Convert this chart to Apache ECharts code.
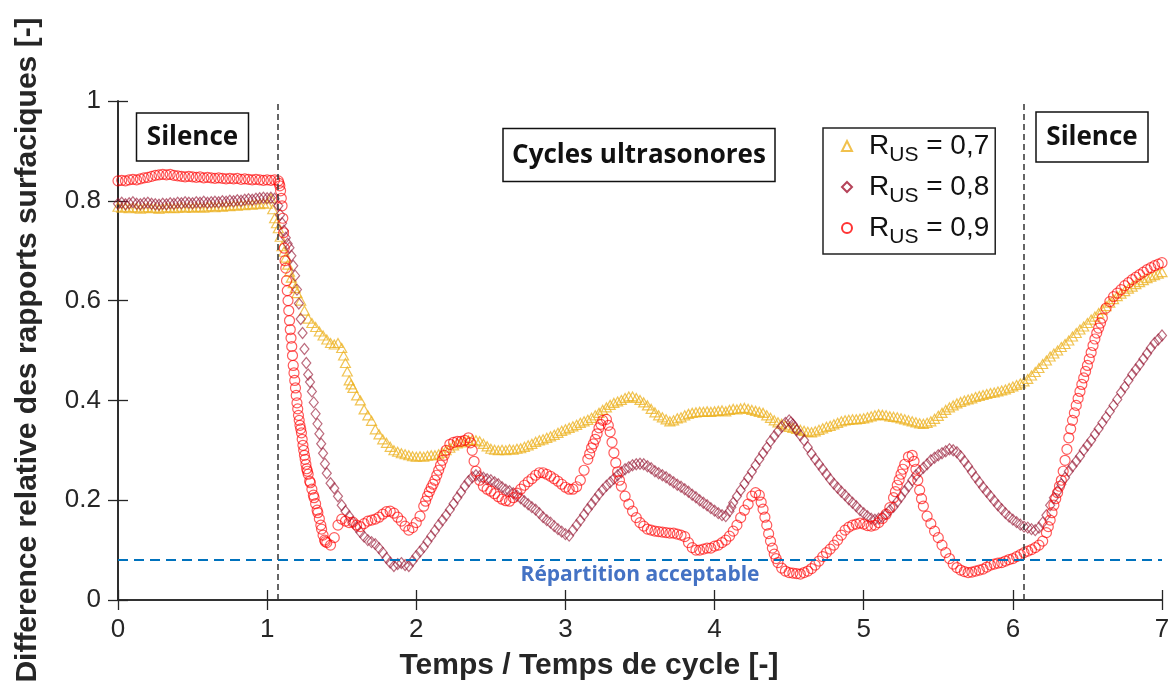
<!DOCTYPE html>
<html><head><meta charset="utf-8">
<script src="https://cdn.jsdelivr.net/npm/echarts@6/dist/echarts.min.js"></script>
<style>html,body{margin:0;padding:0;background:#fff}#c{width:1173px;height:695px}</style>
</head><body><div id="c"></div>
<script>
// ---------------- DATA ----------------
const X_STEP = 0.025;            // sampling step of the time grid (0 .. 7)
const xTicks = [0, 1, 2, 3, 4, 5, 6, 7];
const yTicks = [0, 0.2, 0.4, 0.6, 0.8, 1];
const legendValues = ['0,7', '0,8', '0,9'];

// R_US = 0,7 (triangles)
const y07 = [
0.788,0.786,0.787,0.785,0.787,0.786,0.784,0.786,0.787,0.785,
0.786,0.784,0.785,0.787,0.786,0.785,0.786,0.788,0.786,0.787,
0.786,0.788,0.787,0.786,0.788,0.789,0.787,0.789,0.788,0.790,
0.789,0.791,0.790,0.792,0.791,0.793,0.792,0.794,0.793,0.795,
0.794,0.805,0.765,0.745,0.709,0.686,0.658,0.635,0.615,0.600,
0.580,0.564,0.555,0.547,0.538,0.530,0.522,0.515,0.512,0.515,
0.505,0.475,0.440,0.425,0.410,0.400,0.382,0.370,0.359,0.342,
0.332,0.322,0.315,0.307,0.300,0.297,0.294,0.292,0.290,0.288,
0.287,0.288,0.287,0.289,0.290,0.290,0.292,0.295,0.300,0.305,
0.310,0.314,0.316,0.318,0.320,0.321,0.320,0.318,0.313,0.308,
0.303,0.301,0.300,0.301,0.300,0.302,0.301,0.303,0.304,0.307,
0.310,0.313,0.317,0.320,0.322,0.325,0.328,0.331,0.335,0.339,
0.342,0.345,0.348,0.351,0.355,0.358,0.361,0.365,0.370,0.375,
0.381,0.386,0.391,0.395,0.398,0.401,0.405,0.408,0.408,0.405,
0.401,0.396,0.390,0.383,0.376,0.370,0.366,0.362,0.358,0.360,
0.364,0.366,0.370,0.373,0.375,0.376,0.377,0.377,0.378,0.377,
0.378,0.379,0.380,0.378,0.381,0.383,0.382,0.384,0.385,0.383,
0.381,0.379,0.377,0.375,0.370,0.365,0.360,0.356,0.353,0.350,
0.347,0.345,0.343,0.341,0.339,0.337,0.336,0.338,0.341,0.344,
0.347,0.349,0.352,0.355,0.358,0.360,0.361,0.362,0.362,0.363,
0.364,0.366,0.368,0.370,0.372,0.371,0.370,0.368,0.367,0.366,
0.364,0.362,0.360,0.358,0.356,0.354,0.353,0.355,0.358,0.363,
0.369,0.375,0.381,0.386,0.390,0.394,0.397,0.400,0.402,0.404,
0.407,0.409,0.411,0.413,0.415,0.416,0.418,0.420,0.422,0.425,
0.428,0.431,0.434,0.438,0.443,0.450,0.457,0.465,0.473,0.480,
0.488,0.494,0.500,0.507,0.513,0.520,0.528,0.535,0.542,0.548,
0.555,0.562,0.568,0.575,0.582,0.589,0.596,0.603,0.609,0.614,
0.619,0.624,0.628,0.633,0.637,0.641,0.645,0.648,0.651,0.654,
0.657];
const x07extra = [1.0375,1.0625,1.0875,1.1125,1.1375,1.1625,1.1875,1.5125,1.5375,1.5625];
const y07extra = [0.783,0.755,0.728,0.698,0.672,0.646,0.625,0.490,0.458,0.432];

// R_US = 0,8 (diamonds)
const y08 = [
0.794,0.796,0.793,0.795,0.797,0.794,0.793,0.795,0.796,0.794,
0.793,0.792,0.794,0.793,0.795,0.794,0.796,0.795,0.797,0.796,
0.795,0.797,0.796,0.798,0.796,0.797,0.798,0.797,0.799,0.798,
0.800,0.799,0.801,0.800,0.802,0.803,0.802,0.804,0.805,0.806,
0.805,0.806,0.804,0.790,0.755,0.726,0.706,0.670,0.622,0.563,
0.503,0.452,0.418,0.373,0.333,0.294,0.254,0.234,0.224,0.208,
0.190,0.178,0.168,0.156,0.146,0.136,0.127,0.120,0.116,0.112,
0.104,0.095,0.084,0.075,0.068,0.072,0.074,0.070,0.068,0.078,
0.088,0.097,0.106,0.117,0.128,0.139,0.150,0.160,0.170,0.181,
0.193,0.205,0.216,0.228,0.238,0.246,0.250,0.248,0.245,0.242,
0.240,0.236,0.232,0.226,0.221,0.218,0.214,0.209,0.204,0.198,
0.192,0.186,0.181,0.174,0.166,0.160,0.155,0.148,0.142,0.137,
0.132,0.129,0.140,0.150,0.160,0.171,0.182,0.192,0.202,0.212,
0.221,0.229,0.236,0.243,0.250,0.256,0.262,0.266,0.270,0.272,
0.273,0.272,0.268,0.264,0.258,0.254,0.250,0.246,0.241,0.236,
0.231,0.227,0.222,0.217,0.211,0.206,0.200,0.195,0.190,0.184,
0.179,0.174,0.170,0.168,0.178,0.195,0.208,0.220,0.233,0.245,
0.257,0.270,0.282,0.294,0.305,0.318,0.328,0.338,0.347,0.355,
0.360,0.352,0.340,0.330,0.320,0.306,0.293,0.282,0.272,0.262,
0.252,0.242,0.233,0.225,0.217,0.210,0.202,0.195,0.188,0.180,
0.174,0.168,0.163,0.161,0.163,0.166,0.172,0.180,0.187,0.197,
0.207,0.218,0.228,0.240,0.250,0.258,0.265,0.272,0.280,0.285,
0.290,0.294,0.298,0.302,0.300,0.296,0.288,0.278,0.268,0.257,
0.246,0.236,0.226,0.217,0.208,0.199,0.190,0.182,0.174,0.167,
0.161,0.156,0.151,0.147,0.145,0.142,0.140,0.145,0.155,0.170,
0.190,0.205,0.218,0.232,0.245,0.258,0.268,0.278,0.288,0.300,
0.310,0.320,0.332,0.343,0.355,0.366,0.378,0.390,0.402,0.416,
0.427,0.440,0.452,0.462,0.472,0.483,0.494,0.505,0.515,0.522,
0.530];
const x08extra = [1.0875,1.1125,1.1375,1.1625,1.1875,1.2125,1.2375,1.2625,1.2875,1.3125,1.3375,1.3625,1.3875,4.1125,4.5125,4.5375];
const y08extra = [0.772,0.740,0.714,0.690,0.650,0.594,0.535,0.475,0.437,0.396,0.353,0.313,0.273,0.186,0.356,0.346];

// R_US = 0,9 (circles)
const y09 = [
0.840,0.841,0.840,0.842,0.843,0.842,0.844,0.846,0.847,0.849,
0.851,0.852,0.853,0.852,0.853,0.851,0.850,0.849,0.848,0.849,
0.848,0.847,0.848,0.846,0.847,0.846,0.845,0.846,0.845,0.844,
0.845,0.844,0.845,0.843,0.844,0.843,0.842,0.843,0.842,0.841,
0.842,0.841,0.842,0.840,0.790,0.665,0.560,0.470,0.395,0.343,
0.290,0.252,0.222,0.193,0.163,0.130,0.115,0.110,0.125,0.150,
0.162,0.158,0.155,0.156,0.150,0.147,0.153,0.158,0.160,0.162,
0.166,0.172,0.177,0.178,0.174,0.166,0.158,0.148,0.140,0.145,
0.155,0.168,0.188,0.208,0.225,0.240,0.260,0.280,0.300,0.312,
0.316,0.318,0.318,0.320,0.325,0.300,0.258,0.240,0.228,0.222,
0.218,0.213,0.207,0.202,0.199,0.198,0.205,0.214,0.222,0.230,
0.237,0.243,0.250,0.255,0.255,0.252,0.248,0.243,0.238,0.232,
0.226,0.222,0.222,0.227,0.240,0.260,0.282,0.305,0.322,0.345,
0.360,0.362,0.337,0.295,0.257,0.228,0.208,0.192,0.178,0.165,
0.155,0.148,0.142,0.140,0.138,0.137,0.136,0.135,0.134,0.134,
0.132,0.130,0.127,0.115,0.105,0.100,0.100,0.102,0.104,0.104,
0.108,0.110,0.115,0.120,0.128,0.138,0.150,0.165,0.180,0.192,
0.208,0.215,0.210,0.182,0.150,0.118,0.092,0.075,0.064,0.058,
0.055,0.054,0.053,0.052,0.055,0.058,0.063,0.070,0.078,0.087,
0.095,0.102,0.110,0.120,0.130,0.140,0.146,0.150,0.152,0.154,
0.152,0.149,0.148,0.150,0.155,0.163,0.172,0.185,0.205,0.230,
0.252,0.272,0.287,0.290,0.262,0.220,0.188,0.168,0.153,0.138,
0.125,0.110,0.095,0.083,0.072,0.065,0.060,0.057,0.055,0.056,
0.058,0.060,0.062,0.066,0.070,0.072,0.074,0.075,0.078,0.081,
0.083,0.087,0.091,0.095,0.098,0.101,0.105,0.110,0.118,0.135,
0.160,0.190,0.215,0.240,0.280,0.325,0.360,0.390,0.418,0.445,
0.470,0.496,0.523,0.545,0.565,0.585,0.598,0.608,0.615,0.622,
0.630,0.636,0.642,0.647,0.652,0.657,0.662,0.666,0.670,0.673,
0.676];
const x09extra = [1.080,1.085,1.090,1.095,1.105,1.110,1.115,1.120,1.130,1.135,1.140,1.145,1.155,1.160,1.165,1.170,1.180,1.185,1.190,1.195,1.205,1.210,1.215,1.220,1.230,1.235,1.240,1.245,1.255,1.260,1.265,1.270,1.285,1.290,1.310,1.315,1.335,1.340,1.360,1.365,1.385,1.390,
2.0625,2.0875,2.1125,2.1375,2.1625,2.1875,2.3625,2.3875,3.1625,3.1875,3.2125,3.2375,3.2875,3.3125,3.3375,3.3625,4.3125,4.3375,4.3625,4.3875,4.4125,5.2125,5.2375,5.2625,5.3375,5.3625,5.3875,
6.2375,6.2625,6.2875,6.3125,6.3375,6.3625,6.3875,6.4125,6.4375,6.4625,6.4875,6.5125,6.5375,6.5625,6.5875];
const y09extra = [0.835,0.830,0.820,0.805,0.765,0.736,0.705,0.680,0.640,0.620,0.600,0.580,0.542,0.525,0.508,0.490,0.455,0.440,0.425,0.410,0.383,0.370,0.360,0.350,0.335,0.322,0.310,0.300,0.282,0.272,0.263,0.258,0.238,0.235,0.210,0.205,0.180,0.175,0.150,0.142,0.120,0.117,
0.198,0.217,0.232,0.250,0.270,0.290,0.315,0.278,0.293,0.313,0.333,0.352,0.350,0.316,0.275,0.240,0.196,0.166,0.133,0.104,0.083,0.217,0.241,0.262,0.278,0.240,0.203,
0.147,0.175,0.203,0.228,0.258,0.302,0.343,0.375,0.404,0.432,0.458,0.483,0.510,0.535,0.555];

const VLINES_X = [1.07, 6.07];   // limits of the ultrasonic cycles
const ACCEPT_Y = 0.08;           // acceptable distribution threshold

// ---------------- BUILD ----------------
function pairs(ys, xe, ye) {
  const out = ys.map((v, i) => [+(i * X_STEP).toFixed(4), v]);
  xe.forEach((x, i) => out.push([x, ye[i]]));
  out.sort((a, b) => a[0] - b[0]);
  return out;
}
const FONT = "'Liberation Sans', Arial, sans-serif";
const BOXFONT = "'Open Sans', 'Lato', sans-serif";
const axisCol = '#262626';
const COL07 = 'rgba(237,177,32,0.95)';
const COL08 = 'rgba(150,24,52,0.8)';
const COL09 = 'rgba(255,0,0,0.8)';

const chart = echarts.init(document.getElementById('c'), null, {renderer: 'canvas'});

function textBox(cx, cy, w, h, txt) {
  return {
    type: 'group', x: cx, y: cy, z: 100,
    children: [
      {type: 'rect', shape: {x: -w / 2, y: -h / 2, width: w, height: h},
       style: {fill: '#fff', stroke: '#111', lineWidth: 1.5}},
      {type: 'text', style: {text: txt, x: 0, y: 1, align: 'center', verticalAlign: 'middle',
        font: "bold 26px " + BOXFONT, fill: '#111'}}
    ]
  };
}

const option = {
  animation: false,
  backgroundColor: '#fff',
  grid: {left: 118, right: 11, top: 101, bottom: 95, containLabel: false},
  xAxis: [{
    type: 'value', min: 0, max: 7, interval: 1,
    axisLine: {show: true, lineStyle: {color: axisCol, width: 1.6}},
    axisTick: {show: true, inside: true, length: 10, lineStyle: {color: axisCol, width: 1.3}},
    axisLabel: {fontFamily: FONT, fontSize: 26, color: axisCol, margin: 17},
    splitLine: {show: false}
  }, {
    type: 'value', min: 0, max: 7, interval: 1, position: 'top',
    axisLine: {show: true, lineStyle: {color: axisCol, width: 1.6}},
    axisTick: {show: true, inside: true, length: 10, lineStyle: {color: axisCol, width: 1.3}},
    axisLabel: {show: false}, splitLine: {show: false}
  }],
  yAxis: [{
    type: 'value', min: 0, max: 1, interval: 0.2,
    axisLine: {show: true, lineStyle: {color: axisCol, width: 1.6}},
    axisTick: {show: true, inside: true, length: 10, lineStyle: {color: axisCol, width: 1.3}},
    axisLabel: {fontFamily: FONT, fontSize: 26, color: axisCol, margin: 17,
      formatter: v => String(+v.toFixed(1))},
    splitLine: {show: false}
  }, {
    type: 'value', min: 0, max: 1, interval: 0.2, position: 'right',
    axisLine: {show: true, lineStyle: {color: axisCol, width: 1.6}},
    axisTick: {show: true, inside: true, length: 10, lineStyle: {color: axisCol, width: 1.3}},
    axisLabel: {show: false}, splitLine: {show: false}
  }],
  legend: {
    orient: 'vertical', left: 823, top: 128,
    itemWidth: 10, itemHeight: 10, itemGap: 7,
    padding: [4, 6, 6, 18],
    backgroundColor: '#fff', borderColor: '#222', borderWidth: 1.5,
    data: [
      {name: legendValues[0], itemStyle: {color: 'rgba(0,0,0,0)', borderColor: '#EDB120', borderWidth: 2}},
      {name: legendValues[1], itemStyle: {color: 'rgba(0,0,0,0)', borderColor: '#A2142F', borderWidth: 2}},
      {name: legendValues[2], itemStyle: {color: 'rgba(0,0,0,0)', borderColor: '#FF0000', borderWidth: 2}}
    ],
    formatter: n => '{g| }{r|R}{s|US}{r| = ' + n + '}',
    textStyle: {
      color: '#111',
      rich: {
        g: {width: 12, fontSize: 10, lineHeight: 40},
        r: {fontFamily: FONT, fontSize: 28, lineHeight: 40, color: '#111'},
        s: {fontFamily: FONT, fontSize: 21, lineHeight: 16, verticalAlign: 'bottom', color: '#111'}
      }
    }
  },
  graphic: [
    textBox(192.5, 137, 112, 48, 'Silence'),
    textBox(639, 155, 272, 53, 'Cycles ultrasonores'),
    textBox(1092, 137, 112, 50, 'Silence'),
    {type: 'text', x: 589, y: 666, z: 100,
     style: {text: 'Temps / Temps de cycle [-]', align: 'center', verticalAlign: 'middle',
       font: 'bold 30px ' + FONT, fill: axisCol}},
    {type: 'text', x: 28, y: 350, rotation: Math.PI / 2, z: 100,
     style: {text: 'Difference relative des rapports surfaciques [-]', align: 'center', verticalAlign: 'middle',
       font: 'bold 30px ' + FONT, fill: axisCol}}
  ],
  series: [
    {
      name: 'lines', type: 'line', data: [], silent: true, z: 1,
      markLine: {
        silent: true, symbol: 'none', animation: false,
        data: [
          {xAxis: VLINES_X[0], lineStyle: {type: [6, 4], color: '#333', width: 1.5}, label: {show: false}},
          {xAxis: VLINES_X[1], lineStyle: {type: [6, 4], color: '#333', width: 1.5}, label: {show: false}},
          {yAxis: ACCEPT_Y, lineStyle: {type: [10, 6], color: '#0072BD', width: 2},
           label: {show: true, position: 'insideMiddleBottom', formatter: 'Répartition acceptable',
             color: '#4472C4', fontFamily: BOXFONT, fontWeight: 'bold', fontSize: 21, distance: 4}}
        ]
      }
    },
    {
      name: legendValues[0], type: 'scatter', z: 2,
      symbol: 'triangle', symbolSize: [10, 9],
      itemStyle: {color: 'rgba(0,0,0,0)', borderColor: COL07, borderWidth: 1.2},
      data: pairs(y07, x07extra, y07extra)
    },
    {
      name: legendValues[1], type: 'scatter', z: 3,
      symbol: 'diamond', symbolSize: [9, 11],
      itemStyle: {color: 'rgba(0,0,0,0)', borderColor: COL08, borderWidth: 1.2},
      data: pairs(y08, x08extra, y08extra)
    },
    {
      name: legendValues[2], type: 'scatter', z: 4,
      symbol: 'circle', symbolSize: 10,
      itemStyle: {color: 'rgba(0,0,0,0)', borderColor: COL09, borderWidth: 1.2},
      data: pairs(y09, x09extra, y09extra)
    }
  ]
};
chart.setOption(option);
</script></body></html>
